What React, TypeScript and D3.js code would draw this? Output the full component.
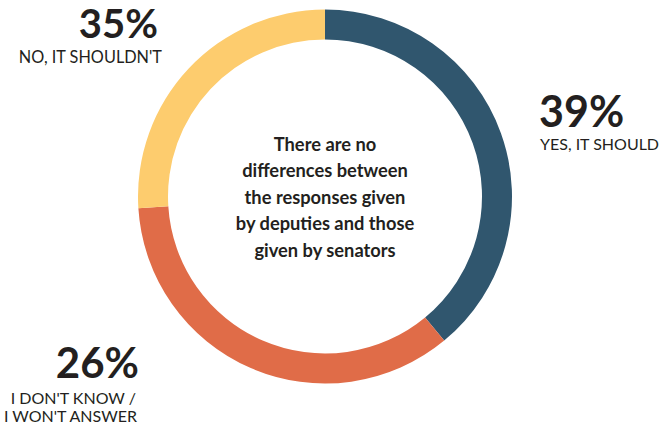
import React from "react";
import * as d3 from "d3";

const categories = ["YES, IT SHOULD", "I DON'T KNOW / I WON'T ANSWER", "NO, IT SHOULDN'T"];
// percentages printed on the labels
const labelValues = [39, 26, 35];
// ring segment sizes as drawn in the picture (blue, orange, yellow)
const sliceValues = [39, 35, 26];
const colors = ["#30566e", "#e06c48", "#fdcc6e"];
const centerLines = [
  "There are no",
  "differences between",
  "the responses given",
  "by deputies and those",
  "given by senators",
];

const W = 672;
const H = 426;
const cx = 325;
const cy = 196.5;
const outerR = 187;
const innerR = 157;
const FONT = "Lato, 'Open Sans', sans-serif";
const TEXT = "#231f20";

export default function App() {
  const pie = d3.pie<number>().sort(null).value((d) => d)(sliceValues);
  const arc = d3.arc<d3.PieArcDatum<number>>().innerRadius(innerR).outerRadius(outerR);

  return (
    <svg width={W} height={H} style={{ position: "absolute", left: 0, top: 0, fontFamily: FONT }}>
      <rect width={W} height={H} fill="#fff" />
      <g transform={`translate(${cx},${cy})`}>
        {pie.map((p, i) => (
          <path key={i} d={arc(p) || ""} fill={colors[i]} />
        ))}
      </g>
      <g fill={TEXT} fontWeight={700} fontSize={18.3} textAnchor="middle">
        {centerLines.map((l, i) => (
          <text key={i} x={cx} y={150.5 + i * 26.5}>{l}</text>
        ))}
      </g>
      {/* 39% */}
      <text x={539} y={127} fontSize={43} fontWeight={700} fill={TEXT}>{labelValues[0]}%</text>
      <text x={540} y={150} fontSize={16} fill={TEXT}>{categories[0]}</text>
      {/* 35% */}
      <text x={158} y={38} fontSize={40} fontWeight={700} fill={TEXT} textAnchor="end">{labelValues[2]}%</text>
      <text x={162} y={63} fontSize={16.3} fill={TEXT} textAnchor="end">{categories[2]}</text>
      {/* 26% */}
      <text x={139} y={378} fontSize={42} fontWeight={700} fill={TEXT} textAnchor="end">{labelValues[1]}%</text>
      <text x={136} y={404} fontSize={16} fill={TEXT} textAnchor="end">I DON'T KNOW /</text>
      <text x={137} y={422} fontSize={16} fill={TEXT} textAnchor="end">I WON'T ANSWER</text>
    </svg>
  );
}
